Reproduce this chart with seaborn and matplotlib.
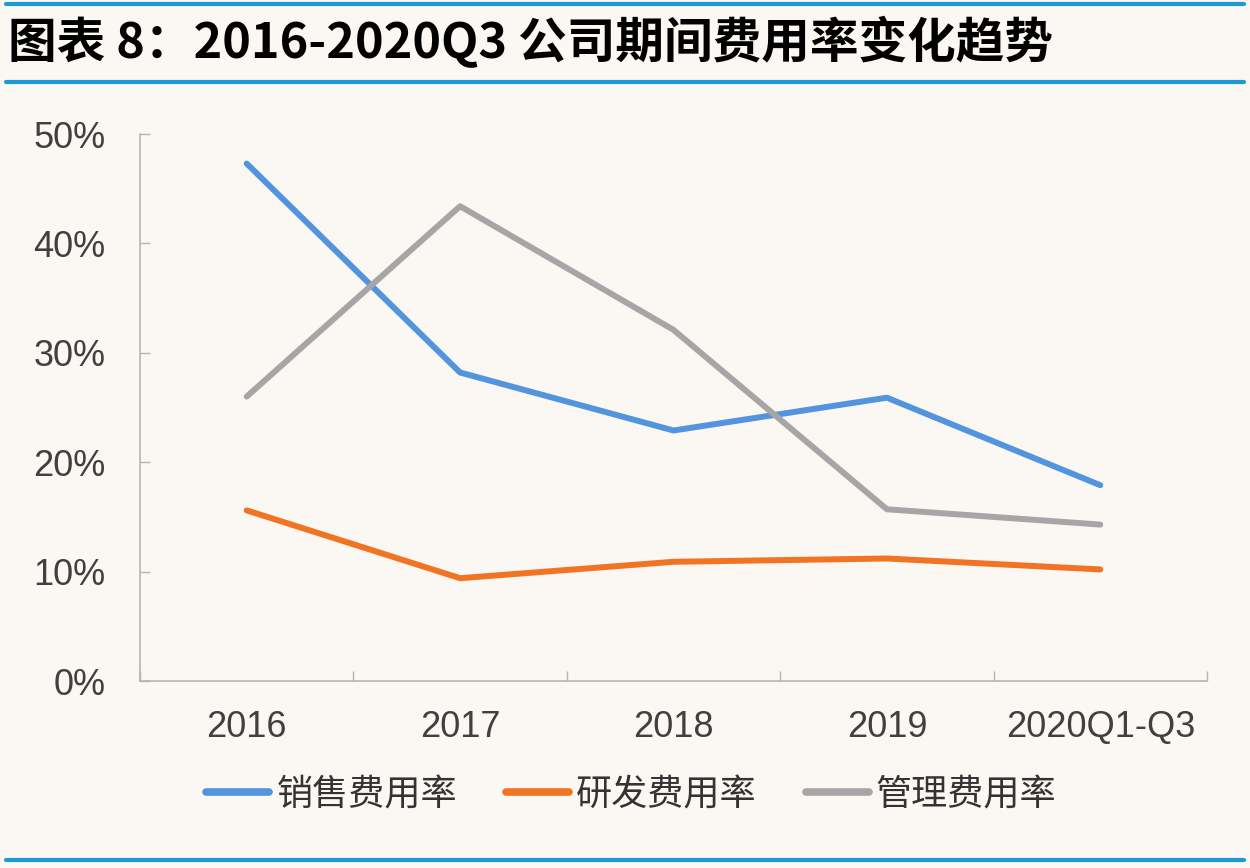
import numpy as np
import pandas as pd
import matplotlib
matplotlib.use("Agg")
import matplotlib.pyplot as plt
import seaborn as sns
from matplotlib.lines import Line2D
from matplotlib.ticker import FixedLocator, PercentFormatter

# data
periods = ["2016", "2017", "2018", "2019", "2020Q1-Q3"]
sales_rate = [0.473, 0.282, 0.229, 0.259, 0.179]
rd_rate = [0.156, 0.094, 0.109, 0.112, 0.102]
admin_rate = [0.260, 0.434, 0.321, 0.157, 0.143]
series_names = ["销售费用率", "研发费用率", "管理费用率"]
series_colors = ["#5294de", "#f07423", "#a6a6a6"]

title = "图表 8：2016-2020Q3 公司期间费用率变化趋势"

bg = "#fbf7f2"
accent = "#1b9ad8"

sns.set_theme(style="white")
plt.rcParams['font.family'] = ['Liberation Sans', 'Noto Sans CJK SC', 'DejaVu Sans']

df = pd.DataFrame({
    "period": periods * 3,
    "rate": sales_rate + rd_rate + admin_rate,
    "series": [series_names[0]] * 5 + [series_names[1]] * 5 + [series_names[2]] * 5,
})
df["pos"] = df["period"].map({p: i for i, p in enumerate(periods)})

fig = plt.figure(figsize=(12.5, 8.68), dpi=100, facecolor=bg)
ax = fig.add_axes([0.112, 0.2154, 0.8536, 0.6302])
ax.set_facecolor(bg)

sns.lineplot(data=df, x="pos", y="rate", hue="series", palette=series_colors,
             hue_order=series_names, linewidth=4.3, sort=False, ax=ax, legend=False)
for ln in ax.get_lines():
    ln.set_solid_capstyle("round")

ax.set_xlim(-0.5, len(periods) - 0.5)
ax.set_ylim(0, 0.5)
ax.set_xlabel("")
ax.set_ylabel("")

ax.set_xticks(range(len(periods)))
ax.set_xticklabels(periods)
ax.xaxis.set_minor_locator(FixedLocator(np.arange(-0.5, len(periods), 1.0)))
ax.tick_params(axis="x", which="major", length=0, pad=21, labelsize=26, labelcolor="#404040")
ax.tick_params(axis="x", which="minor", direction="in", length=7, width=1, color="#b5b5b5")

ax.set_yticks(np.arange(0, 0.51, 0.1))
ax.yaxis.set_major_formatter(PercentFormatter(1.0, decimals=0))
ax.tick_params(axis="y", direction="in", length=7, width=1, color="#b5b5b5",
               pad=25, labelsize=26, labelcolor="#404040")
ax.tick_params(left=True, bottom=True, which="both")

sns.despine(ax=ax)
for side in ["left", "bottom"]:
    ax.spines[side].set_color("#b5b5b5")
    ax.spines[side].set_linewidth(1.2)

handles = [Line2D([0], [0], color=c, lw=5.5, solid_capstyle="round") for c in series_colors]
fig.legend(handles, series_names, loc="center", bbox_to_anchor=(0.505, 0.084), ncol=3,
           frameon=False, handlelength=1.75, handletextpad=0.2, columnspacing=1.35,
           labelcolor="#333333",
           prop={"family": ["Noto Sans CJK SC"], "size": 26, "weight": "light"})

fig.text(0.0064, 0.951, title, fontsize=35, fontweight="heavy", fontstyle="italic",
         va="center", ha="left", color="black",
         family=["Noto Sans CJK SC", "DejaVu Sans"])

for y in [0.9954, 0.9055, 0.0092]:
    fig.add_artist(Line2D([0.005, 0.995], [y, y], color=accent, lw=3, transform=fig.transFigure))

fig.savefig("out.png", dpi=100, facecolor=bg)
